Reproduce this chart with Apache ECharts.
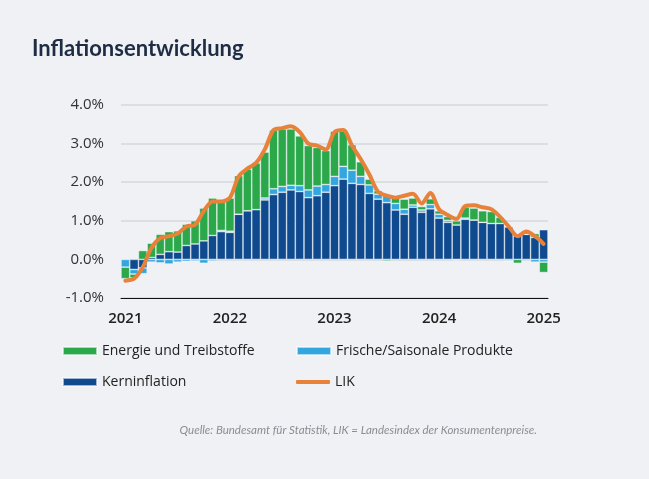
<!DOCTYPE html>
<html>
<head>
<meta charset="utf-8">
<title>Inflationsentwicklung</title>
<script src="https://cdn.jsdelivr.net/npm/echarts@6/dist/echarts.min.js"></script>
<style>
  html, body { margin: 0; padding: 0; background: #eff1f5; }
  #chart { width: 649px; height: 479px; }
</style>
</head>
<body>
<div id="chart"></div>
<script>
// monthly, Jan 2021 .. Jan 2025
const months = [
  '2021-01','2021-02','2021-03','2021-04','2021-05','2021-06','2021-07','2021-08','2021-09','2021-10','2021-11','2021-12',
  '2022-01','2022-02','2022-03','2022-04','2022-05','2022-06','2022-07','2022-08','2022-09','2022-10','2022-11','2022-12',
  '2023-01','2023-02','2023-03','2023-04','2023-05','2023-06','2023-07','2023-08','2023-09','2023-10','2023-11','2023-12',
  '2024-01','2024-02','2024-03','2024-04','2024-05','2024-06','2024-07','2024-08','2024-09','2024-10','2024-11','2024-12',
  '2025-01'
];

// contributions in percentage points
const kern = [
  0.00, -0.26, -0.22, 0.05, 0.13, 0.20, 0.19, 0.36, 0.40, 0.48, 0.62, 0.72,
  0.70, 1.17, 1.26, 1.29, 1.54, 1.68, 1.74, 1.80, 1.76, 1.60, 1.65, 1.74,
  1.91, 2.08, 1.97, 1.94, 1.71, 1.56, 1.47, 1.28, 1.17, 1.35, 1.22, 1.31,
  1.07, 0.96, 0.89, 1.04, 1.02, 0.96, 0.93, 0.93, 0.84, 0.61, 0.65, 0.57,
  0.77
];

const frische = [
  -0.20, -0.12, -0.15, -0.07, -0.09, -0.12, -0.07, -0.05, -0.04, -0.10, -0.04, 0.03,
  0.03, 0.00, 0.00, 0.00, 0.05, 0.15, 0.15, 0.12, 0.15, 0.20, 0.25, 0.20,
  0.24, 0.33, 0.34, 0.21, 0.22, 0.13, 0.21, 0.17, 0.13, 0.06, 0.06, 0.11,
  0.10, 0.05, -0.02, 0.03, 0.00, 0.00, 0.00, 0.00, -0.04, 0.00, 0.00, -0.07,
  -0.07
];

const energie = [
  -0.30, -0.10, 0.23, 0.37, 0.52, 0.52, 0.55, 0.55, 0.60, 0.85, 0.97, 0.77,
  0.86, 1.00, 1.08, 1.21, 1.19, 1.52, 1.49, 1.46, 1.29, 1.15, 1.00, 0.88,
  1.17, 0.95, 0.66, 0.38, 0.15, 0.09, -0.04, 0.14, 0.26, 0.18, 0.09, 0.15,
  0.09, 0.10, 0.11, 0.28, 0.31, 0.30, 0.31, 0.16, 0.00, -0.10, 0.07, 0.10,
  -0.27
];

const lik = [
  -0.55, -0.50, -0.20, 0.30, 0.55, 0.60, 0.67, 0.85, 0.90, 1.25, 1.50, 1.50,
  1.60, 2.15, 2.35, 2.50, 2.85, 3.35, 3.40, 3.45, 3.30, 3.00, 2.95, 2.85,
  3.30, 3.35, 2.95, 2.60, 2.20, 1.75, 1.65, 1.60, 1.65, 1.70, 1.45, 1.72,
  1.30, 1.15, 1.05, 1.38, 1.40, 1.35, 1.30, 1.10, 0.85, 0.60, 0.72, 0.60,
  0.40
];

const colors = {
  energie: '#2aa84a',
  frische: '#33a6df',
  kern: '#0f4a8f',
  lik: '#e8823a'
};

const chart = echarts.init(document.getElementById('chart'));

const legendText = { fontFamily: 'Open Sans', fontSize: 14, color: '#222' };

function legendAt(name, left, top, icon, h) {
  return {
    data: [name],
    left: left,
    top: top,
    padding: 0,
    itemWidth: 34,
    itemHeight: h,
    itemGap: 0,
    icon: icon,
    selectedMode: false,
    textStyle: legendText
  };
}

// every bar series gets the same gap, no space between months
function barSeries(name, data, color) {
  return {
    name: name,
    type: 'bar',
    stack: 'total',
    barCategoryGap: '0%',
    barGap: '0%',
    data: data,
    itemStyle: {
      color: color,
      borderColor: 'rgba(255,255,255,0.6)',
      borderWidth: 0.7
    }
  };
}

chart.setOption({
  backgroundColor: '#eff1f5',
  animation: false,
  title: {
    text: 'Inflationsentwicklung',
    left: 32,
    top: 38,
    padding: 0,
    textStyle: { fontFamily: 'Lato', fontWeight: 'bold', fontSize: 22, color: '#1e2c44' }
  },
  legend: [
    legendAt('Energie und Treibstoffe', 62, 344, 'rect', 8),
    legendAt('Frische/Saisonale Produkte', 296, 344, 'rect', 8),
    legendAt('Kerninflation', 62, 375, 'rect', 8),
    legendAt('LIK', 296, 375, 'roundRect', 4)
  ],
  grid: { left: 121, right: 101, top: 105, bottom: 181 },
  xAxis: {
    type: 'category',
    data: months,
    boundaryGap: true,
    axisLine: { show: true, onZero: false, lineStyle: { color: '#111', width: 1 } },
    axisTick: { show: false },
    axisLabel: {
      interval: (i) => i % 12 === 0,
      showMinLabel: true,
      showMaxLabel: true,
      formatter: (v) => v.slice(0, 4),
      margin: 13,
      fontFamily: 'Open Sans',
      fontWeight: 600,
      fontSize: 15,
      color: '#222'
    }
  },
  yAxis: {
    type: 'value',
    min: -1,
    max: 4,
    interval: 1,
    axisLine: { show: false },
    axisTick: { show: false },
    splitLine: { lineStyle: { color: '#d5d8de', width: 1.5 } },
    axisLabel: {
      formatter: (v) => v.toFixed(1) + '%',
      margin: 17,
      fontFamily: 'Open Sans',
      fontSize: 15,
      color: '#333'
    }
  },
  series: [
    barSeries('Kerninflation', kern, colors.kern),
    barSeries('Frische/Saisonale Produkte', frische, colors.frische),
    barSeries('Energie und Treibstoffe', energie, colors.energie),
    {
      name: 'LIK',
      type: 'line',
      data: lik,
      smooth: 0.3,
      showSymbol: false,
      z: 5,
      lineStyle: { color: colors.lik, width: 4, cap: 'round', join: 'round' },
      itemStyle: { color: colors.lik }
    }
  ],
  graphic: [
    {
      type: 'text',
      right: 649 - 537,
      top: 424,
      style: {
        text: 'Quelle: Bundesamt für Statistik, LIK = Landesindex der Konsumentenpreise.',
        fontFamily: 'Lato',
        fontStyle: 'italic',
        fontSize: 11.5,
        fill: '#8a8d92'
      }
    }
  ]
});
</script>
</body>
</html>
